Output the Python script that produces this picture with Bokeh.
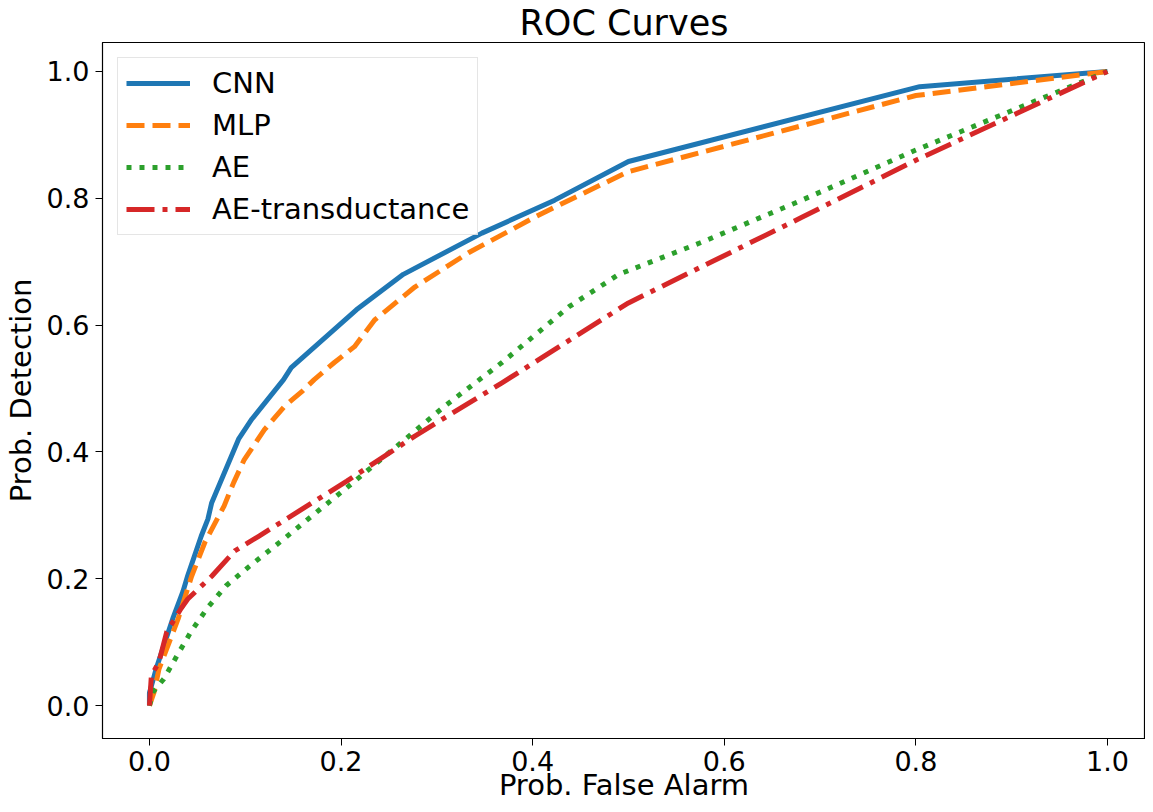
from bokeh.plotting import figure
from bokeh.models import Legend, LegendItem, FixedTicker, NumeralTickFormatter
from bokeh.embed import file_html
from bokeh.resources import INLINE

# Data
cnn_fpr = [0.0, 0.0, 0.007, 0.025, 0.035, 0.04, 0.054, 0.061, 0.065, 0.093, 0.107, 0.14, 0.148,
           0.216, 0.265, 0.347, 0.423, 0.5, 0.804, 1.0]
cnn_tpr = [0.0, 0.02, 0.058, 0.14, 0.18, 0.205, 0.267, 0.294, 0.32, 0.42, 0.452, 0.514, 0.533,
           0.624, 0.68, 0.745, 0.797, 0.858, 0.976, 1.0]

mlp_fpr = [0.0, 0.005, 0.01, 0.03, 0.044, 0.058, 0.078, 0.088, 0.099, 0.12, 0.141, 0.159, 0.172,
           0.193, 0.214, 0.235, 0.277, 0.333, 0.402, 0.438, 0.5, 0.8, 1.0]
mlp_tpr = [0.0, 0.022, 0.058, 0.137, 0.204, 0.258, 0.315, 0.352, 0.388, 0.435, 0.472, 0.495, 0.514,
           0.541, 0.566, 0.608, 0.66, 0.714, 0.77, 0.797, 0.842, 0.962, 1.0]

ae_fpr = [0.0, 0.004, 0.015, 0.03, 0.044, 0.061, 0.08, 0.103, 0.138, 0.172, 0.208, 0.263, 0.308,
          0.368, 0.438, 0.49, 0.577, 0.681, 0.8, 1.0]
ae_tpr = [0.0, 0.022, 0.042, 0.082, 0.118, 0.155, 0.189, 0.218, 0.26, 0.302, 0.346, 0.415, 0.472,
          0.541, 0.629, 0.68, 0.731, 0.797, 0.876, 1.0]

aet_fpr = [0.0, 0.002, 0.01, 0.018, 0.033, 0.04, 0.065, 0.089, 0.114, 0.206, 0.277, 0.368, 0.5,
           0.681, 0.8, 1.0]
aet_tpr = [0.0, 0.047, 0.069, 0.116, 0.153, 0.168, 0.204, 0.244, 0.267, 0.354, 0.425, 0.509, 0.635,
           0.77, 0.86, 1.0]

labels = ["CNN", "MLP", "AE", "AE-transductance"]
colors = ["#1f77b4", "#ff7f0e", "#2ca02c", "#d62728"]
dashes = ["solid", "18 8", "5 8", "28 8 5 8"]
ticks = [0.0, 0.2, 0.4, 0.6, 0.8, 1.0]

FONT = "DejaVu Sans"

p = figure(width=1145, height=804, output_backend="svg", toolbar_location=None,
           x_range=(-0.049, 1.0397), y_range=(-0.0519, 1.0456),
           title="ROC Curves", min_border_right=0, min_border_top=0, min_border_bottom=0)

p.title.text_font = FONT
p.title.text_font_size = "35px"
p.title.text_font_style = "normal"
p.title.align = "center"
p.title.text_color = "black"
p.title.standoff = 0
p.title.offset = 0

series = [(cnn_fpr, cnn_tpr), (mlp_fpr, mlp_tpr), (ae_fpr, ae_tpr), (aet_fpr, aet_tpr)]
items = []
for (xs, ys), lab, col, dash in zip(series, labels, colors, dashes):
    r = p.line(xs, ys, line_color=col, line_width=5, line_dash=dash, line_join="round")
    items.append(LegendItem(label=lab, renderers=[r]))

legend = Legend(items=items, location="top_left")
legend.label_text_font = FONT
legend.label_text_font_size = "29px"
legend.label_text_color = "black"
legend.glyph_width = 64
legend.glyph_height = 34
legend.label_standoff = 22
legend.spacing = 8
legend.padding = 8
legend.margin = 15
legend.border_line_color = "#cccccc"
legend.border_line_width = 1
legend.background_fill_alpha = 0.8
p.add_layout(legend)

p.xgrid.visible = False
p.ygrid.visible = False
p.outline_line_color = "black"
p.outline_line_width = 1.2
p.outline_line_alpha = 1.0

for ax in (p.xaxis[0], p.yaxis[0]):
    ax.ticker = FixedTicker(ticks=ticks)
    ax.formatter = NumeralTickFormatter(format="0.0")
    ax.major_label_text_font = FONT
    ax.major_label_text_font_size = "27px"
    ax.major_label_text_color = "black"
    ax.axis_label_text_font = FONT
    ax.axis_label_text_font_size = "29px"
    ax.axis_label_text_font_style = "normal"
    ax.axis_label_text_color = "black"
    ax.minor_tick_line_color = None
    ax.major_tick_out = 7
    ax.major_tick_in = 0
    ax.major_tick_line_color = "black"
    ax.axis_line_color = "black"

p.xaxis[0].axis_label = "Prob. False Alarm"
p.yaxis[0].axis_label = "Prob. Detection"
p.xaxis[0].axis_label_standoff = -6
p.xaxis[0].major_label_standoff = 5
p.yaxis[0].axis_label_standoff = 6
p.yaxis[0].major_label_standoff = 6

open("out.html", "w").write(file_html(p, INLINE))
